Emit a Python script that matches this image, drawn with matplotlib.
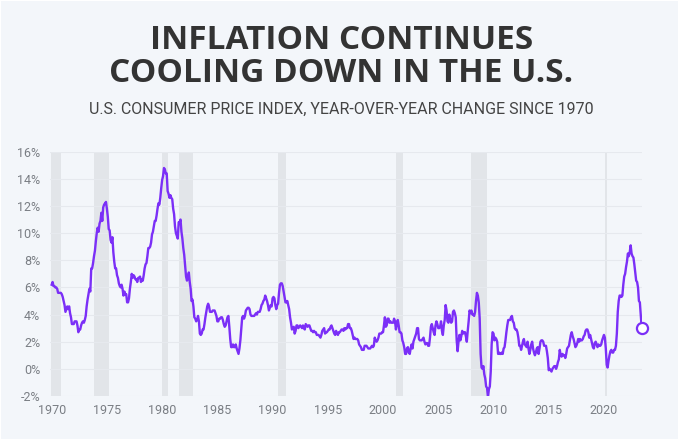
import matplotlib
matplotlib.use("Agg")
import matplotlib.pyplot as plt
from matplotlib import font_manager
from matplotlib.patches import Rectangle
import numpy as np

# ---- data: US CPI-U year-over-year change (%), monthly, Jan 1970 - Jun 2023 ----
cpi_1970s = [
    6.2, 6.4, 6.1, 6.1, 6.0, 6.0, 5.9, 5.6, 5.6, 5.6, 5.6, 5.5,   # 1970
    5.3, 5.0, 4.7, 4.2, 4.4, 4.6, 4.4, 4.6, 4.1, 3.8, 3.3, 3.3,   # 1971
    3.3, 3.5, 3.5, 3.5, 3.2, 2.7, 2.9, 2.9, 3.2, 3.4, 3.5, 3.4,   # 1972
    3.6, 3.9, 4.6, 5.1, 5.5, 5.9, 5.7, 7.4, 7.4, 7.8, 8.3, 8.7,   # 1973
    9.4, 10.0, 10.4, 10.1, 10.7, 10.9, 11.5, 10.9, 11.9, 12.1, 12.2, 12.3,  # 1974
    11.8, 11.2, 10.3, 10.2, 9.5, 9.3, 9.7, 8.6, 7.9, 7.4, 7.4, 6.9,  # 1975
    6.7, 6.3, 6.1, 6.0, 6.2, 5.9, 5.4, 5.7, 5.5, 5.5, 4.9, 4.9,   # 1976
    5.2, 5.9, 6.4, 7.0, 6.7, 6.9, 6.8, 6.6, 6.6, 6.4, 6.7, 6.7,   # 1977
    6.8, 6.4, 6.6, 6.5, 6.9, 7.4, 7.7, 7.8, 8.3, 8.9, 8.9, 9.0,   # 1978
    9.3, 9.9, 10.1, 10.5, 10.9, 10.9, 11.3, 11.8, 12.2, 12.1, 12.6, 13.3,  # 1979
]
cpi_1980s = [
    13.9, 14.2, 14.8, 14.7, 14.4, 14.4, 13.1, 12.9, 12.6, 12.8, 12.6, 12.5,  # 1980
    11.8, 11.4, 10.5, 10.0, 9.8, 9.6, 10.8, 10.8, 11.0, 10.1, 9.6, 8.9,   # 1981
    8.4, 7.6, 6.8, 6.5, 6.7, 7.1, 6.4, 5.9, 5.0, 5.1, 4.6, 3.8,   # 1982
    3.7, 3.5, 3.6, 3.9, 3.5, 2.6, 2.5, 2.6, 2.9, 2.9, 3.3, 3.8,   # 1983
    4.2, 4.6, 4.8, 4.6, 4.2, 4.2, 4.2, 4.3, 4.3, 4.3, 4.1, 3.9,   # 1984
    3.5, 3.5, 3.7, 3.7, 3.8, 3.8, 3.6, 3.3, 3.1, 3.2, 3.5, 3.8,   # 1985
    3.9, 3.1, 2.2, 1.6, 1.6, 1.8, 1.6, 1.6, 1.8, 1.5, 1.3, 1.1,   # 1986
    1.5, 2.1, 3.0, 3.8, 3.9, 3.7, 3.9, 4.3, 4.4, 4.5, 4.5, 4.4,   # 1987
    4.0, 3.9, 3.9, 3.9, 3.9, 4.0, 4.1, 4.0, 4.2, 4.2, 4.2, 4.4,   # 1988
    4.7, 4.8, 5.0, 5.1, 5.4, 5.2, 5.0, 4.7, 4.3, 4.5, 4.7, 4.6,   # 1989
]
cpi_1990s = [
    5.2, 5.3, 5.2, 4.7, 4.4, 4.7, 4.8, 5.6, 6.2, 6.3, 6.3, 6.1,   # 1990
    5.7, 5.3, 4.9, 4.9, 5.0, 4.7, 4.4, 3.8, 3.4, 2.9, 3.0, 3.1,   # 1991
    2.6, 2.8, 3.2, 3.2, 3.0, 3.1, 3.2, 3.1, 3.0, 3.2, 3.0, 2.9,   # 1992
    3.3, 3.2, 3.1, 3.2, 3.2, 3.0, 2.8, 2.8, 2.7, 2.8, 2.7, 2.7,   # 1993
    2.5, 2.5, 2.5, 2.4, 2.3, 2.5, 2.8, 2.9, 3.0, 2.6, 2.7, 2.7,   # 1994
    2.8, 2.9, 2.9, 3.1, 3.2, 3.0, 2.8, 2.6, 2.5, 2.8, 2.6, 2.5,   # 1995
    2.7, 2.7, 2.8, 2.9, 2.9, 2.8, 3.0, 2.9, 3.0, 3.0, 3.3, 3.3,   # 1996
    3.0, 3.0, 2.8, 2.5, 2.2, 2.3, 2.2, 2.2, 2.2, 2.1, 1.8, 1.7,   # 1997
    1.6, 1.4, 1.4, 1.4, 1.7, 1.7, 1.7, 1.6, 1.5, 1.5, 1.5, 1.6,   # 1998
    1.7, 1.6, 1.7, 2.3, 2.1, 2.0, 2.1, 2.3, 2.6, 2.6, 2.6, 2.7,   # 1999
]
cpi_2000s = [
    2.7, 3.2, 3.8, 3.1, 3.2, 3.7, 3.7, 3.4, 3.5, 3.4, 3.4, 3.4,   # 2000
    3.7, 3.5, 2.9, 3.3, 3.6, 3.2, 2.7, 2.7, 2.6, 2.1, 1.9, 1.6,   # 2001
    1.1, 1.1, 1.5, 1.6, 1.2, 1.1, 1.5, 1.8, 1.5, 2.0, 2.2, 2.4,   # 2002
    2.6, 3.0, 3.0, 2.2, 2.1, 2.1, 2.1, 2.2, 2.3, 2.0, 1.8, 1.9,   # 2003
    1.9, 1.7, 1.7, 2.3, 3.1, 3.3, 3.0, 2.7, 2.5, 3.2, 3.5, 3.3,   # 2004
    3.0, 3.0, 3.1, 3.5, 2.8, 2.5, 3.2, 3.6, 4.7, 4.3, 3.5, 3.4,   # 2005
    4.0, 3.6, 3.4, 3.5, 4.2, 4.3, 4.1, 3.8, 2.1, 1.3, 2.0, 2.5,   # 2006
    2.1, 2.4, 2.8, 2.6, 2.7, 2.7, 2.4, 2.0, 2.8, 3.5, 4.3, 4.1,   # 2007
    4.3, 4.0, 4.0, 3.9, 4.2, 5.0, 5.6, 5.4, 4.9, 3.7, 1.1, 0.1,   # 2008
    0.0, 0.2, -0.4, -0.7, -1.3, -1.4, -2.1, -1.5, -1.3, -0.2, 1.8, 2.7,  # 2009
]
cpi_2010s = [
    2.6, 2.1, 2.3, 2.2, 2.0, 1.1, 1.2, 1.1, 1.1, 1.2, 1.1, 1.5,   # 2010
    1.6, 2.1, 2.7, 3.2, 3.6, 3.6, 3.6, 3.8, 3.9, 3.5, 3.4, 3.0,   # 2011
    2.9, 2.9, 2.7, 2.3, 1.7, 1.7, 1.4, 1.7, 2.0, 2.2, 1.8, 1.7,   # 2012
    1.6, 2.0, 1.5, 1.1, 1.4, 1.8, 2.0, 1.5, 1.2, 1.0, 1.2, 1.5,   # 2013
    1.6, 1.1, 1.5, 2.0, 2.1, 2.1, 2.0, 1.7, 1.7, 1.7, 1.3, 0.8,   # 2014
    -0.1, 0.0, -0.1, -0.2, 0.0, 0.1, 0.2, 0.2, 0.0, 0.2, 0.5, 0.7,  # 2015
    1.4, 1.0, 0.9, 1.1, 1.0, 1.0, 0.8, 1.1, 1.5, 1.6, 1.7, 2.1,   # 2016
    2.5, 2.7, 2.4, 2.2, 1.9, 1.6, 1.7, 1.9, 2.2, 2.0, 2.2, 2.1,   # 2017
    2.1, 2.2, 2.4, 2.5, 2.8, 2.9, 2.9, 2.7, 2.3, 2.5, 2.2, 1.9,   # 2018
    1.6, 1.5, 1.9, 2.0, 1.8, 1.6, 1.8, 1.7, 1.7, 1.8, 2.1, 2.3,   # 2019
]
cpi_2020s = [
    2.5, 2.3, 1.5, 0.3, 0.1, 0.6, 1.0, 1.3, 1.4, 1.2, 1.2, 1.4,   # 2020
    1.4, 1.7, 2.6, 4.2, 5.0, 5.4, 5.4, 5.3, 5.4, 6.2, 6.8, 7.0,   # 2021
    7.5, 7.9, 8.5, 8.3, 8.6, 9.1, 8.5, 8.3, 8.2, 7.7, 7.1, 6.5,   # 2022
    6.4, 6.0, 5.0, 4.9, 4.0, 3.0,                                 # 2023
]
start_year = 1970

# US recessions (start, end) as decimal years
recession_starts = [1969.92, 1973.83, 1980.0, 1981.5, 1990.5, 2001.17, 2007.92, 2020.08]
recession_ends   = [1970.83, 1975.17, 1980.5, 1982.83, 1991.17, 2001.83, 2009.42, 2020.25]

yticks = [-2, 0, 2, 4, 6, 8, 10, 12, 14, 16]
xticks = [1970, 1975, 1980, 1985, 1990, 1995, 2000, 2005, 2010, 2015, 2020]

title = "INFLATION CONTINUES\nCOOLING DOWN IN THE U.S."
subtitle = "U.S. CONSUMER PRICE INDEX, YEAR-OVER-YEAR CHANGE SINCE 1970"

# ---- fonts ----
available = {f.name for f in font_manager.fontManager.ttflist}
def pick(*names):
    for n in names:
        if n in available:
            return n
    return "DejaVu Sans"
title_font = pick("Open Sans", "Noto Sans", "DejaVu Sans")
narrow_font = pick("Liberation Sans Narrow", "Roboto", "Open Sans")

values = np.array(cpi_1970s + cpi_1980s + cpi_1990s + cpi_2000s + cpi_2010s + cpi_2020s)
dates = start_year + np.arange(len(values)) / 12.0

BG = "#f3f6fa"
PURPLE = "#7b2ff7"
GRID = "#e6e9ee"
BAND = "#e2e5e9"
TXT = "#333333"
TICK = "#7a7e84"

W, H = 683, 445
fig = plt.figure(figsize=(W / 100, H / 100), dpi=100)
fig.patch.set_facecolor("white")
fig.patches.append(Rectangle((1 / W, 1 - 439 / H), 677 / W, 438 / H, transform=fig.transFigure,
                             facecolor=BG, edgecolor="none", zorder=-10))

ax = fig.add_axes([50 / W, 1 - 396 / H, (641.7 - 50) / W, (396 - 151.7) / H])
ax.set_facecolor(BG)
ax.patch.set_alpha(0)

for s, e in zip(recession_starts, recession_ends):
    ax.axvspan(s, e, color=BAND, lw=0, zorder=1)

ax.plot(dates, values, color=PURPLE, lw=1.7, zorder=3, solid_joinstyle="round")
ax.plot(dates[-1], values[-1], marker="o", ms=8, mfc="white", mec=PURPLE, mew=1.6,
        zorder=4, clip_on=False)

ax.set_xlim(1969.85, dates[-1])
ax.set_ylim(-2, 16)
ax.set_yticks(yticks)
ax.set_yticklabels([f"{v}%" for v in yticks])
ax.set_xticks(xticks)
ax.set_xticklabels([str(v) for v in xticks])
ax.grid(axis="y", color=GRID, lw=0.8, zorder=0)
ax.grid(axis="x", visible=False)
for sp in ax.spines.values():
    sp.set_visible(False)
ax.tick_params(length=0, colors=TICK, labelsize=9)
ax.tick_params(axis="y", pad=7)
ax.tick_params(axis="x", pad=6)
for lab in ax.get_xticklabels() + ax.get_yticklabels():
    lab.set_fontfamily(narrow_font)
    lab.set_color(TICK)

fig.text(0.5, 1 - 24 / H, title, ha="center", va="top", fontsize=24, fontweight="bold",
         family=title_font, color=TXT, linespacing=1.0)
fig.text(0.5, 1 - 114 / H, subtitle, ha="center", va="baseline", fontsize=11.5,
         family=narrow_font, color="#444444")

fig.savefig("out.png", dpi=100, facecolor=fig.get_facecolor())
